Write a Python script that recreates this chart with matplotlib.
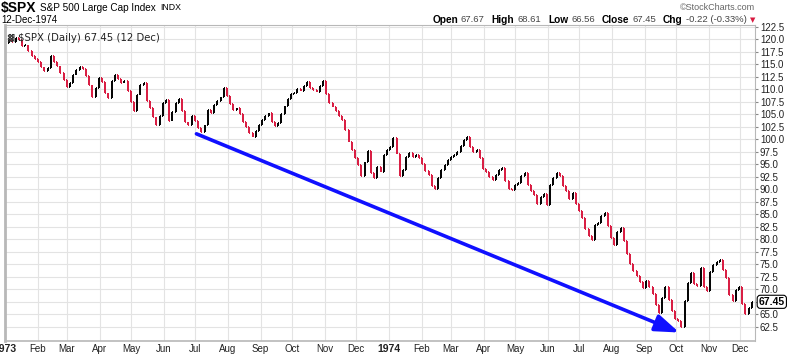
import datetime as dt
import matplotlib
matplotlib.use("Agg")
import matplotlib.pyplot as plt
import matplotlib.dates as mdates
from matplotlib.collections import LineCollection
import numpy as np

plt.rcParams['font.family'] = ['Liberation Sans', 'DejaVu Sans']

"""S&P 500 daily closes read off the chart, ~10 readings per month"""
close_1973 = [
    119.2, 119.8, 119.4, 120.2, 119.8, 118.6, 118.9, 117.6, 116.6, 116.0,  # Jan
    115.4, 114.4, 113.6, 114.2, 116.6, 115.4, 114.6, 113.2, 111.8, 110.4,  # Feb
    111.2, 112.8, 113.8, 114.4, 114.0, 112.6, 110.8, 108.4, 110.2, 112.2,  # Mar
    111.4, 109.2, 108.2, 111.6, 112.8, 112.0, 111.2, 111.6, 109.6, 107.4,  # Apr
    105.6, 108.8, 110.8, 111.2, 107.6, 106.2, 104.4, 102.8, 104.6, 107.2,  # May
    107.8, 103.6, 105.4, 107.2, 108.0, 105.6, 103.4, 102.9, 104.6, 103.6,  # Jun
    102.2, 101.4, 102.8, 105.8, 105.2, 106.8, 107.6, 108.4, 110.2, 108.6,  # Jul
    107.0, 105.8, 106.2, 105.0, 103.4, 102.4, 101.2, 100.4, 101.6, 102.8,  # Aug
    103.8, 104.6, 105.2, 103.4, 102.6, 103.2, 105.0, 106.6, 108.0, 109.0,  # Sep
    109.2, 110.0, 109.6, 110.6, 111.4, 110.2, 109.8, 109.4, 110.6, 111.6,  # Oct
    109.0, 107.2, 106.4, 105.6, 104.6, 103.8, 101.8, 99.4, 97.8, 96.2,     # Nov
    94.8, 92.6, 95.4, 97.6, 93.2, 92.2, 94.4, 93.4, 96.8, 97.8,            # Dec
]
close_1974 = [
    98.4, 100.2, 97.0, 92.6, 93.8, 96.4, 97.2, 96.4, 96.8, 96.2,   # Jan
    95.0, 93.6, 92.8, 90.6, 90.0, 92.2, 93.8, 94.8, 95.8, 96.4,    # Feb
    96.8, 97.4, 98.6, 99.8, 100.4, 98.4, 97.4, 97.8, 96.2, 94.0,   # Mar
    93.4, 92.4, 91.8, 92.8, 93.8, 94.2, 91.6, 90.0, 89.8, 90.8,    # Apr
    91.2, 92.6, 93.2, 90.8, 89.6, 88.8, 87.0, 88.4, 89.0, 86.8,    # May
    90.8, 92.2, 93.2, 92.6, 90.6, 89.6, 88.0, 89.2, 87.0, 85.6,    # Jun
    84.2, 82.0, 80.6, 79.8, 82.8, 83.2, 84.6, 85.2, 82.6, 80.2,    # Jul
    78.8, 81.4, 82.2, 79.6, 77.0, 75.0, 73.6, 72.6, 71.4, 70.2,    # Aug
    71.6, 70.4, 69.0, 66.8, 65.2, 68.2, 70.4, 67.8, 65.6, 64.0,    # Sep
    63.6, 62.4, 67.6, 71.2, 73.2, 71.0, 70.6, 74.2, 70.4, 69.6,    # Oct
    73.4, 74.8, 75.4, 75.8, 73.8, 72.2, 68.8, 67.6, 69.8, 70.4,    # Nov
    67.0, 65.0, 66.2, 67.45,                                        # Dec (to the 12th)
]
first_day = dt.date(1973, 1, 2)
last_day = dt.date(1974, 12, 12)

month_names = ['1973', 'Feb', 'Mar', 'Apr', 'May', 'Jun', 'Jul', 'Aug', 'Sep', 'Oct', 'Nov', 'Dec',
               '1974', 'Feb', 'Mar', 'Apr', 'May', 'Jun', 'Jul', 'Aug', 'Sep', 'Oct', 'Nov', 'Dec']
price_ticks = np.arange(62.5, 123.0, 2.5)

# trend arrow drawn on the chart (date, price)
arrow_from = (dt.date(1973, 7, 2), 101.1)
arrow_to = (dt.date(1974, 10, 4), 61.3)

last_close = 67.45
quote = [('Open', '67.67'), ('High', '68.61'), ('Low', '66.56'), ('Close', '67.45'), ('Chg', '-0.22 (-0.33%)')]

RED = '#d8193f'
W, H = 800, 355

closes = np.array(close_1973 + close_1974)
x = np.linspace(mdates.date2num(first_day), mdates.date2num(last_day), len(closes))

fig = plt.figure(figsize=(W / 100, H / 100), dpi=100)
ax = fig.add_axes([5 / W, 1 - 341 / H, 750 / W, 316 / H])

# bars: prev close -> close, with open/close ticks
d = 0.9
segs, cols = [], []
for i in range(1, len(closes)):
    o, c = closes[i - 1], closes[i]
    col = RED if c < o else 'black'
    segs += [[(x[i], o), (x[i], c)], [(x[i] - d, o), (x[i], o)], [(x[i], c), (x[i] + d, c)]]
    cols += [col] * 3
ax.add_collection(LineCollection(segs, colors=cols, linewidths=1.4, zorder=3))

ax.set_xlim(mdates.date2num(dt.date(1973, 1, 1)), mdates.date2num(dt.date(1974, 12, 15)))
ax.set_ylim(59.6, 122.9)

month_starts = [dt.date(1973 + i // 12, i % 12 + 1, 1) for i in range(24)]
ax.set_xticks([mdates.date2num(m) for m in month_starts])
ax.set_xticklabels(month_names, fontsize=7, color='#222222')
for lab in ax.get_xticklabels():
    if lab.get_text().isdigit():
        lab.set_fontweight('bold')
        lab.set_fontsize(7.5)
ax.tick_params(axis='x', length=0, pad=2)

# the last-price box sits over the 67.5 label, as on the original
ax.yaxis.tick_right()
ax.set_yticks(price_ticks)
ax.set_yticklabels(['' if abs(v - 67.5) < 0.01 else '%.1f' % v for v in price_ticks],
                   fontsize=7, color='#222222')
ax.tick_params(axis='y', length=2.5, pad=1, color='#888888', width=0.8)

ax.grid(True, color='#e3e3e3', linewidth=0.8)
ax.set_axisbelow(True)
for s in ax.spines.values():
    s.set_color('#b8b8b8')
    s.set_linewidth(0.8)
ax.spines['left'].set_linewidth(2)
ax.spines['bottom'].set_linewidth(1.2)

# the blue trend arrow
ax.annotate('', xy=(mdates.date2num(arrow_to[0]), arrow_to[1]),
            xytext=(mdates.date2num(arrow_from[0]), arrow_from[1]),
            arrowprops=dict(arrowstyle='-|>,head_length=0.9,head_width=0.32', color='#1010ff',
                            lw=2.6, mutation_scale=16, shrinkA=0, shrinkB=0),
            annotation_clip=False, zorder=5)

# last price box on the right axis
ax.text(1.005, last_close, '%.2f' % last_close, transform=ax.get_yaxis_transform(),
        ha='left', va='center', fontsize=7.5, fontweight='bold', zorder=6, clip_on=False,
        bbox=dict(boxstyle='round,pad=0.15,rounding_size=0.3', fc='white', ec='black', lw=0.8))

ax.text(13 / 750, 0.975, r'\$SPX (Daily) 67.45 (12 Dec)', transform=ax.transAxes,
        ha='left', va='top', fontsize=7.3, color='#222222', family='DejaVu Sans')
ax.text(0.003, 0.975, '\u2593', transform=ax.transAxes, ha='left', va='top', fontsize=6,
        color='#333333', family='DejaVu Sans')

r = fig.canvas.get_renderer()

# header, placed piece by piece from the left
xl = 1
for txt, size, weight in [(r'\$SPX', 10, 'bold'), ('S&P 500 Large Cap Index', 7.2, 'normal'),
                          ('INDX', 6.3, 'normal')]:
    t = fig.text(xl / W, 1 - 8 / H, txt, fontsize=size, fontweight=weight, va='center', ha='left')
    xl += t.get_window_extent(r).width + 4
fig.text(1 / W, 1 - 20 / H, '12-Dec-1974', fontsize=7, va='center', ha='left')
fig.text(755 / W, 1 - 7 / H, '\u00a9StockCharts.com', fontsize=6.5, color='#666666',
         va='center', ha='right')

# quote line, placed piece by piece from the right
xr = 755
t = fig.text(xr / W, 1 - 20 / H, '\u25bc', fontsize=5, color=RED, va='center', ha='right',
             family='DejaVu Sans')
xr -= t.get_window_extent(r).width + 3
for label, value in reversed(quote):
    t = fig.text(xr / W, 1 - 20 / H, value, fontsize=6.8, color='#444444', va='center', ha='right')
    xr -= t.get_window_extent(r).width + 3
    t = fig.text(xr / W, 1 - 20 / H, label, fontsize=7.3, fontweight='bold', va='center', ha='right')
    xr -= t.get_window_extent(r).width + 7

fig.savefig('out.png', dpi=100)
